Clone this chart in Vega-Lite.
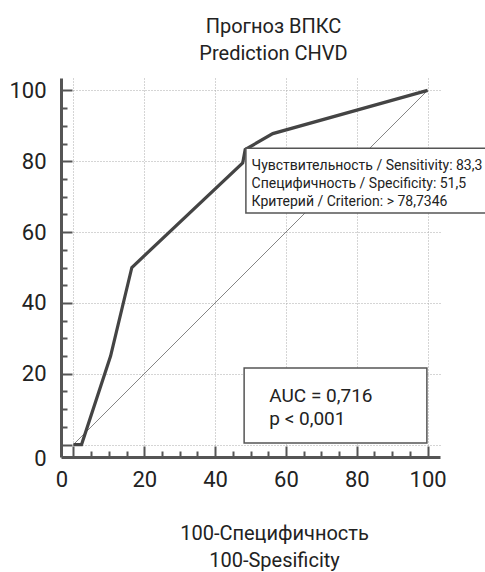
{
  "$schema": "https://vega.github.io/schema/vega-lite/v6.json",
  "width": 379,
  "height": 379,
  "autosize": "none",
  "padding": {"left": 61, "top": 78, "right": 45, "bottom": 115},
  "background": "white",
  "config": {"view": {"stroke": null}, "font": "Roboto"},
  "title": {
    "text": ["Прогноз ВПКС", "Prediction CHVD"],
    "font": "Roboto",
    "fontSize": 20,
    "fontWeight": "normal",
    "color": "#222",
    "anchor": "middle",
    "frame": "group",
    "dx": 23,
    "offset": 14,
    "lineHeight": 27
  },
  "datasets": {
    "roc": [
      {"x": 0, "y": 0},
      {"x": 2.3, "y": 0},
      {"x": 10.5, "y": 25},
      {"x": 16.5, "y": 50},
      {"x": 47.8, "y": 79.5},
      {"x": 48.5, "y": 83.3},
      {"x": 56.3, "y": 87.8},
      {"x": 100, "y": 100}
    ],
    "diag": [{"x": 0, "y": 0}, {"x": 100, "y": 100}],
    "boxes": [
      {"x": 48.7, "x2": 125, "y": 65.4, "y2": 83.65},
      {"x": 48.2, "x2": 99.8, "y": 0.45, "y2": 21.6}
    ],
    "notes": [
      {"x": 50.3, "y": 77.5, "t": "Чувствительность / Sensitivity: 83,3"},
      {"x": 50.3, "y": 72.4, "t": "Специфичность / Specificity: 51,5"},
      {"x": 50.3, "y": 67.4, "t": "Критерий / Criterion: > 78,7346"}
    ],
    "auc": [
      {"x": 55.3, "y": 12.1, "t": "AUC = 0,716"},
      {"x": 55.3, "y": 5.5, "t": "p < 0,001"}
    ]
  },
  "encoding": {
    "x": {
      "field": "x",
      "type": "quantitative",
      "scale": {"domain": [-3.5, 103.5], "nice": false, "zero": false},
      "axis": {
        "values": [0, 5, 10, 15, 20, 25, 30, 35, 40, 45, 50, 55, 60, 65, 70, 75, 80, 85, 90, 95, 100],
        "labelExpr": "datum.value % 20 == 0 ? datum.label : ''",
        "labelOverlap": false,
        "labelFlush": false,
        "labelFont": "Roboto",
        "labelFontSize": 22,
        "labelColor": "#222",
        "labelPadding": 23,
        "labelOffset": {"condition": {"test": "datum.value == 0", "value": -12}, "value": 0},
        "domainColor": "#555",
        "domainWidth": 3,
        "tickColor": "#555",
        "tickWidth": 2,
        "tickSize": {"condition": {"test": "datum.value % 20 == 0", "value": -11}, "value": -6},
        "grid": true,
        "gridColor": "#aaa",
        "gridDash": [1, 2],
        "gridWidth": 1,
        "gridOpacity": {"condition": {"test": "datum.value % 20 == 0", "value": 1}, "value": 0},
        "title": ["100-Специфичность", "100-Spesificity"],
        "titleFont": "Roboto",
        "titleFontSize": 20,
        "titleFontWeight": "normal",
        "titleColor": "#222",
        "titleX": 213,
        "titleY": 82,
        "titleAlign": "center",
        "titleBaseline": "alphabetic",
        "titleLineHeight": 27
      }
    },
    "y": {
      "field": "y",
      "type": "quantitative",
      "scale": {"domain": [-3.5, 103.5], "nice": false, "zero": false},
      "axis": {
        "values": [0, 5, 10, 15, 20, 25, 30, 35, 40, 45, 50, 55, 60, 65, 70, 75, 80, 85, 90, 95, 100],
        "labelExpr": "datum.value % 20 == 0 ? datum.label : ''",
        "labelOverlap": false,
        "labelFlush": false,
        "labelFont": "Roboto",
        "labelFontSize": 22,
        "labelColor": "#222",
        "labelPadding": 26,
        "labelOffset": {"condition": {"test": "datum.value == 0", "value": 14}, "value": 0},
        "domainColor": "#555",
        "domainWidth": 3,
        "tickColor": "#555",
        "tickWidth": 2,
        "tickSize": {"condition": {"test": "datum.value % 20 == 0", "value": -11}, "value": -6},
        "grid": true,
        "gridColor": "#aaa",
        "gridDash": [1, 2],
        "gridWidth": 1,
        "gridOpacity": {"condition": {"test": "datum.value % 20 == 0", "value": 1}, "value": 0},
        "title": null
      }
    }
  },
  "layer": [
    {"data": {"name": "diag"}, "mark": {"type": "line", "color": "#666", "strokeWidth": 0.8}},
    {"data": {"name": "roc"}, "mark": {"type": "line", "color": "#444", "strokeWidth": 3.2, "strokeJoin": "miter"}},
    {
      "data": {"name": "boxes"},
      "mark": {"type": "rect", "fill": "white", "stroke": "#555", "strokeWidth": 1.5},
      "encoding": {"x2": {"field": "x2"}, "y2": {"field": "y2"}}
    },
    {
      "data": {"name": "notes"},
      "mark": {"type": "text", "align": "left", "baseline": "alphabetic", "fontSize": 14, "color": "#222", "font": "Roboto"},
      "encoding": {"text": {"field": "t"}}
    },
    {
      "data": {"name": "auc"},
      "mark": {"type": "text", "align": "left", "baseline": "alphabetic", "fontSize": 19, "color": "#222", "font": "Roboto"},
      "encoding": {"text": {"field": "t"}}
    }
  ]
}
